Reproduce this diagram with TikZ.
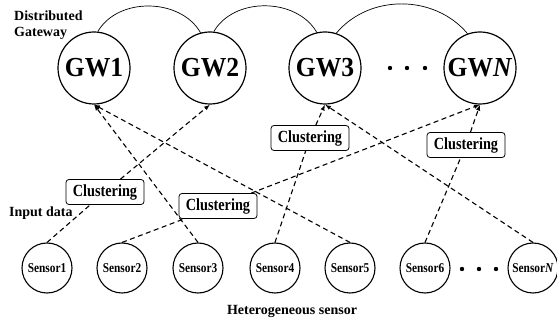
\documentclass[tikz,border=0pt]{standalone}
\usepackage{fontspec}
\setmainfont{Liberation Serif}
\newfontfamily\narrowfont[FakeStretch=0.84]{Liberation Serif}
\newfontfamily\gwfont[FakeStretch=0.93]{Liberation Serif}
\usetikzlibrary{arrows.meta}

\begin{document}
\begin{tikzpicture}
	[x=1pt,y=1pt,
	gw/.style={circle,draw,line width=1.2pt,minimum size=72pt,inner sep=0pt,font=\gwfont\fontsize{27.5}{27.5}\selectfont\bfseries},
	sensor/.style={circle,draw,line width=1.1pt,minimum size=50pt,inner sep=0pt,font=\narrowfont\fontsize{13.5}{14}\selectfont\bfseries},
	cluster/.style={draw,rounded corners=3pt,line width=0.8pt,minimum width=78pt,minimum height=25pt,inner sep=1pt,font=\narrowfont\fontsize{17}{17}\selectfont\bfseries},
	txt/.style={inner sep=0pt,font=\fontsize{14}{16}\selectfont\bfseries},
	feed/.style={line width=1.1pt,dash pattern=on 5pt off 3.5pt,-{Latex[length=6pt,width=4.5pt]}}]
	\useasboundingbox (0,0) rectangle (557,324);
	
	% gateways
	\node[gw] (g1) at (94,256) {GW1};
	\node[gw] (g2) at (210,256) {GW2};
	\node[gw] (g3) at (325,256) {GW3};
	\node[gw] (gN) at (480,256) {GW\textit{N}};
	\foreach \x in {390,407,425}
	\fill (\x,256) circle (2.2pt);
	
	\draw[line width=0.7pt] (g1.84) to[out=60,in=120] (g2.105);
	\draw[line width=0.7pt] (g2.84) to[out=60,in=120] (g3.103);
	\draw[line width=0.7pt] (g3.72) to[out=50,in=130] (gN.110);
	
	% sensors
	\node[sensor] (s1) at (47,56) {Sensor1};
	\node[sensor] (s2) at (122,56) {Sensor2};
	\node[sensor] (s3) at (198,56) {Sensor3};
	\node[sensor] (s4) at (275,56) {Sensor4};
	\node[sensor] (s5) at (350,56) {Sensor5};
	\node[sensor] (s6) at (425,56) {Sensor6};
	\node[sensor] (sN) at (533,56) {Sensor\textit{N}};
	\foreach \x in {462,479,496}
	\fill (\x,55) circle (2.2pt);
	
	% clustering
	\node[cluster] (c1) at (105,132) {Clustering};
	\node[cluster] (c2) at (218,118) {Clustering};
	\node[cluster] (c3) at (310,186) {Clustering};
	\node[cluster] (c4) at (466,179) {Clustering};
	
	\node[txt,align=left,anchor=north west] (dg) at (14,313.5) {Distributed\\Gateway};
	\node[txt,anchor=west] (in) at (9,111) {Input data};
	\node[txt] (hs) at (292,13) {Heterogeneous sensor};
	
	\foreach \from/\to in {s3/g1,s5/g1,sN/g3}
	\draw[feed] (\from.north) -- (\to.south);
	\foreach \from/\via/\to in {s1/c1/g2,s2/c2/gN,s4/c3/g3,s6/c4/gN}
	\draw[feed] (\from.north) -- (\via) -- (\to.south);
\end{tikzpicture}
\end{document}
